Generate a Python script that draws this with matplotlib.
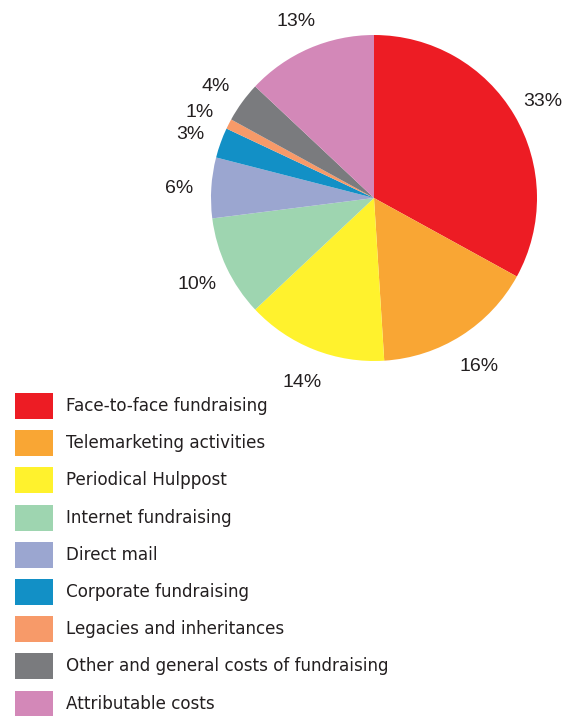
import matplotlib.pyplot as plt
from matplotlib.patches import Rectangle

# data
categories = [
    "Face-to-face fundraising",
    "Telemarketing activities",
    "Periodical Hulppost",
    "Internet fundraising",
    "Direct mail",
    "Corporate fundraising",
    "Legacies and inheritances",
    "Other and general costs of fundraising",
    "Attributable costs",
]
shares = [33, 16, 14, 10, 6, 3, 1, 4, 13]
colors = ["#ED1C24", "#F9A634", "#FFF22D", "#9ED5B0", "#9BA6D0",
          "#1290C6", "#F79A69", "#7A7B7E", "#D388B8"]

plt.rcParams['font.family'] = ['Liberation Sans', 'DejaVu Sans']
txt_color = "#231F20"

W, H = 572, 716
fig = plt.figure(figsize=(W / 100, H / 100), dpi=100)
ax = fig.add_axes([0, 0, 1, 1])

# pie (pixel coords, y measured from bottom)
wedges, _, pcts = ax.pie(
    shares, colors=colors, startangle=90, counterclock=False,
    center=(374, H - 198), radius=163, frame=True,
    autopct=lambda p: f"{p:.0f}%", pctdistance=1.2,
    wedgeprops=dict(linewidth=0),
)
for t in pcts:
    t.set_fontsize(14)
    t.set_color(txt_color)
    x, y = t.get_position()
    t.set_position((x, y - 3))
ax.set_xlim(0, W)
ax.set_ylim(0, H)
ax.set_aspect('equal')
ax.axis('off')

# legend
top = H - 406
step = 37.2
for i, (lab, c) in enumerate(zip(categories, colors)):
    yc = top - i * step
    ax.add_patch(Rectangle((15, yc - 13), 38, 26, color=c, lw=0))
    ax.text(66, yc, lab, va='center', ha='left', fontsize=12.1,
            color=txt_color, family='DejaVu Sans')

fig.savefig("out.png", dpi=100)
